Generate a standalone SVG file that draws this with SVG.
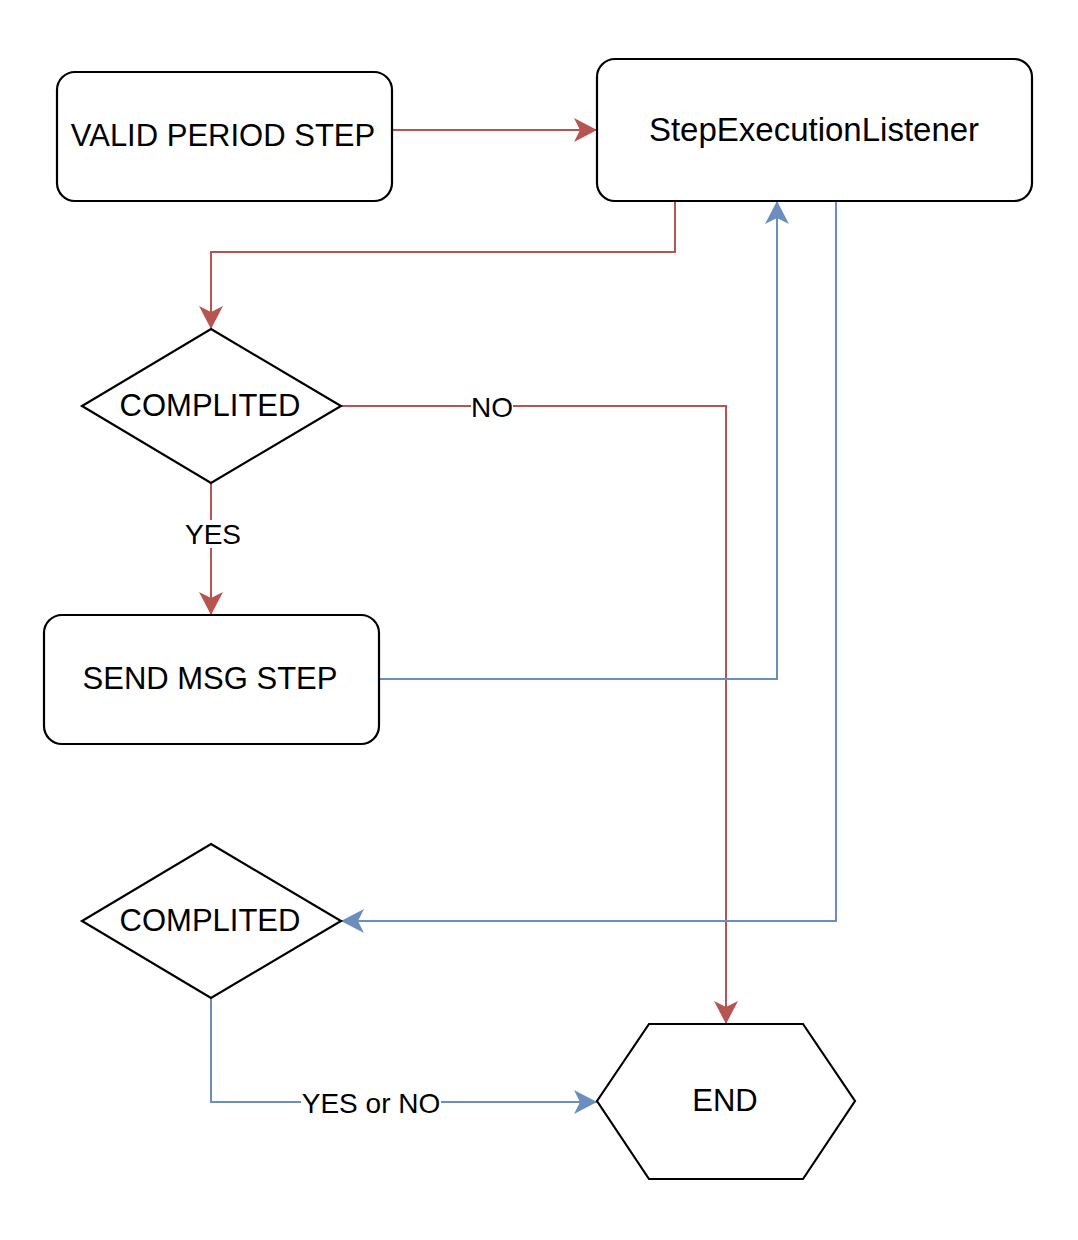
<svg xmlns="http://www.w3.org/2000/svg" width="1078" height="1240" viewBox="0 0 1078 1240">
<style>
.node{fill:#ffffff;stroke:#000000;stroke-width:2.2}
.t{font-family:"Liberation Sans",Arial,sans-serif;font-size:31px;fill:#000000;text-anchor:middle}
.lbl{font-family:"Liberation Sans",Arial,sans-serif;font-size:28px;fill:#000000;text-anchor:middle}
.red{fill:none;stroke:#b85450;stroke-width:2}
.blue{fill:none;stroke:#6c8ebf;stroke-width:2}
.bg{fill:#ffffff}
</style>
<defs>
<marker id="ar" markerUnits="userSpaceOnUse" viewBox="0 0 24 24" refX="23" refY="12" markerWidth="24" markerHeight="24" orient="auto">
<path d="M23,12 L0,0 L6,12 L0,24 Z" fill="#b85450"/>
</marker>
<marker id="ab" markerUnits="userSpaceOnUse" viewBox="0 0 24 24" refX="23" refY="12" markerWidth="24" markerHeight="24" orient="auto">
<path d="M23,12 L0,0 L6,12 L0,24 Z" fill="#6c8ebf"/>
</marker>
</defs>
<rect width="1078" height="1240" fill="#ffffff"/>
<g id="connectors">
<path class="red" d="M392,130 L597,130" marker-end="url(#ar)"/>
<path class="red" d="M675,201 L675,252 L211,252 L211,329" marker-end="url(#ar)"/>
<path class="red" d="M341,406 L726,406 L726,1024" marker-end="url(#ar)"/>
<path class="red" d="M211,483 L211,615" marker-end="url(#ar)"/>
<path class="blue" d="M379,679 L777,679 L777,201" marker-end="url(#ab)"/>
<path class="blue" d="M836,201 L836,921 L341,921" marker-end="url(#ab)"/>
<path class="blue" d="M211,998 L211,1102 L597,1102" marker-end="url(#ab)"/>
<rect class="bg" x="471" y="394" width="42" height="26"/>
<text class="lbl" x="492" y="417">NO</text>
<rect class="bg" x="184" y="520" width="58" height="28"/>
<text class="lbl" x="213" y="544">YES</text>
<rect class="bg" x="301" y="1089" width="140" height="28"/>
<text class="lbl" x="371" y="1113">YES or NO</text>
</g>
<g id="valid-period-step">
<rect class="node" x="57" y="72" width="335" height="129" rx="18" ry="18"/>
<text class="t" x="223" y="146">VALID PERIOD STEP</text>
</g>
<g id="step-execution-listener">
<rect class="node" x="597" y="59" width="435" height="142" rx="18" ry="18"/>
<text class="t" x="814" y="141" style="font-size:33px">StepExecutionListener</text>
</g>
<g id="completed-1">
<polygon class="node" points="211,329 341,406 211,483 82,406"/>
<text class="t" x="210" y="416">COMPLITED</text>
</g>
<g id="send-msg-step">
<rect class="node" x="44" y="615" width="335" height="129" rx="18" ry="18"/>
<text class="t" x="210" y="689">SEND MSG STEP</text>
</g>
<g id="completed-2">
<polygon class="node" points="211,844 341,921 211,998 82,921"/>
<text class="t" x="210" y="931">COMPLITED</text>
</g>
<g id="end">
<polygon class="node" points="597,1101 649,1024 803,1024 855,1101 803,1179 649,1179"/>
<text class="t" x="725" y="1111">END</text>
</g>
</svg>
